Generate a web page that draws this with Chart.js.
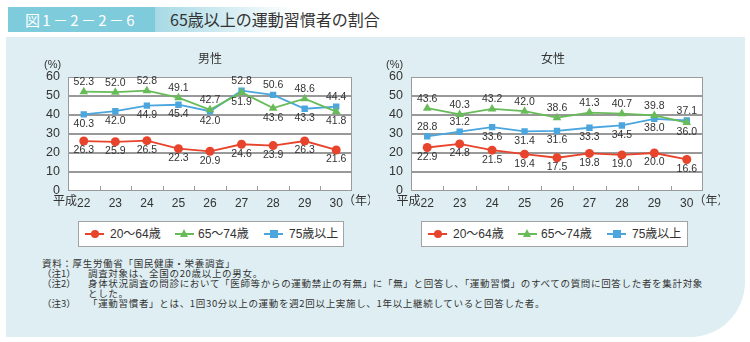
<!DOCTYPE html>
<html><head><meta charset="utf-8">
<script src="https://cdn.jsdelivr.net/npm/chart.js@4.4.1/dist/chart.umd.min.js"></script>
<style>
body{margin:0;width:750px;height:342px;background:#fff;position:relative;overflow:hidden;font-family:'Liberation Sans','Noto Sans CJK JP',sans-serif;}
.abs{position:absolute;}
#panel{left:6px;top:37px;width:739px;height:300px;background:#deeef2;border-bottom-right-radius:55px;}
.legend{top:221px;height:24px;background:#fff;border:1px solid #a3a3a3;font-size:12px;color:#333;}
.li{position:absolute;top:0;height:24px;line-height:24px;white-space:nowrap;}
.mk{position:absolute;top:11px;width:19px;height:2px;}
.dot{position:absolute;left:6px;top:-3px;width:8px;height:8px;border-radius:50%;}
.sq{position:absolute;left:6px;top:-3px;width:8px;height:8px;}
.tri{position:absolute;left:5px;top:-4px;width:0;height:0;border-left:4.5px solid transparent;border-right:4.5px solid transparent;border-bottom:8px solid;}
.notes{left:42px;top:258px;font-family:'Noto Sans CJK JP',sans-serif;font-size:9.5px;line-height:10px;color:#333;white-space:nowrap;}
.notes div{height:10px;}
.notes .p{display:inline-block;width:46px;letter-spacing:0;}
.ct{font-size:12px;color:#333;font-family:'Noto Sans CJK JP',sans-serif;}
.pc{font-size:11px;color:#333;}
</style></head>
<body>
<div class="abs" style="left:0;top:0;width:750px;height:37px;background:#fff"></div>
<div class="abs" style="left:155px;top:7px;width:140px;height:25px;background:linear-gradient(to right,#a6d9e5,#ffffff)"></div>
<div class="abs" style="left:8px;top:7px;width:147px;height:25px;background:#7ecbdb;"></div>
<div id="fig" class="abs" style="left:25px;top:7px;height:25px;color:#fff;font-family:'Noto Sans CJK JP',sans-serif;font-size:15px;line-height:25px;white-space:nowrap">図1－2－2－6</div>
<div id="ttl" class="abs" style="left:170px;top:7px;height:25px;line-height:25px;font-family:'Noto Sans CJK JP',sans-serif;font-size:16px;color:#333;white-space:nowrap">65歳以上の運動習慣者の割合</div>
<div id="panel" class="abs"></div>

<canvas id="c1" class="abs" style="left:20px;top:40px" width="350" height="175"></canvas>
<canvas id="c2" class="abs" style="left:370px;top:40px" width="350" height="175"></canvas>

<div class="abs ct" style="left:180px;top:51px;width:60px;text-align:center;line-height:14px">男性</div>
<div class="abs pc" style="left:44px;top:57px;line-height:14px">(%)</div>
<div class="abs ct" style="left:523px;top:51px;width:60px;text-align:center;line-height:14px">女性</div>
<div class="abs pc" style="left:386px;top:57px;line-height:14px">(%)</div>

<div id="lg1" class="abs legend" style="left:78px;width:264px"></div>
<div id="lg2" class="abs legend" style="left:421px;width:265px"></div>

<div id="notes" class="abs notes">
<div>資料：厚生労働省「国民健康・栄養調査」</div>
<div><span class="p">（注1）</span>調査対象は、全国の20歳以上の男女。</div>
<div><span class="p">（注2）</span><span id="longline">身体状況調査の問診において「医師等からの運動禁止の有無」に「無」と回答し、「運動習慣」のすべての質問に回答した者を集計対象</span></div>
<div><span class="p"></span>とした。</div>
<div><span class="p">（注3）</span>「運動習慣者」とは、1回30分以上の運動を週2回以上実施し、1年以上継続していると回答した者。</div>
</div>

<script>
// ---- data ----
const years = ['22','23','24','25','26','27','28','29','30'];
const seriesNames = ['20～64歳','65～74歳','75歳以上'];
const male2064 = [26.3,25.9,26.5,22.3,20.9,24.6,23.9,26.3,21.6];
const male6574 = [52.3,52.0,52.8,49.1,42.7,51.9,43.6,48.6,41.8];
const male75 = [40.3,42.0,44.9,45.4,42.0,52.8,50.6,43.3,44.4];
const female2064 = [22.9,24.8,21.5,19.4,17.5,19.8,19.0,20.0,16.6];
const female6574 = [43.6,40.3,43.2,42.0,38.6,41.3,40.7,39.8,36.0];
const female75 = [28.8,31.2,33.6,31.4,31.6,33.3,34.5,38.0,37.1];
const yTicks = [0,10,20,30,40,50,60];

// ---- style ----
const COLORS = ['#e8432b','#67bb58','#4ba6de'];
const POINTS = ['circle','triangle','rect'];
const FONT = "'Liberation Sans','Noto Sans CJK JP',sans-serif";
const TXT = '#333';
const placeMale = [
  ['b','b','b','b','b','b','b','b','b'],
  ['a','a','a','a','a','b','b','a','b'],
  ['b','b','b','b','b','a','a','b','a']
];
const placeFemale = [
  ['b','b','b','b','b','b','b','b','b'],
  ['a','a','a','a','a','a','a','a','b'],
  ['a','a','b','b','b','b','b','b','a']
];

// fit text widths via letter-spacing
function fitTo(el, targetRight){
  const r = el.getBoundingClientRect();
  const n = el.textContent.length;
  const ls = (targetRight - r.right)/n;
  return ls;
}
{
  const f = document.getElementById('fig');
  f.style.letterSpacing = fitTo(f,137)+'px';
  const ll = document.getElementById('longline');
  const ls = fitTo(ll,703);
  document.querySelectorAll('#notes div').forEach(d=>d.style.letterSpacing=ls+'px');
}

const deco = {
  id:'deco',
  beforeDraw(c){
    const {ctx, chartArea:a} = c;
    ctx.save(); ctx.fillStyle='#fff';
    ctx.fillRect(a.left,a.top,a.right-a.left,a.bottom-a.top);
    ctx.restore();
  },
  afterDatasetsDraw(c, args, opts){
    const {ctx, chartArea:a} = c;
    const xs = c.scales.x;
    ctx.save();
    ctx.strokeStyle='#9b9b9b'; ctx.lineWidth=1;
    ctx.strokeRect(a.left+0.5,a.top+0.5,a.right-a.left-1,a.bottom-a.top-1);
    ctx.beginPath();
    for(let i=1;i<years.length;i++){
      const x = Math.round((xs.getPixelForValue(i-1)+xs.getPixelForValue(i))/2)+0.5;
      ctx.moveTo(x,a.bottom); ctx.lineTo(x,a.bottom-5);
    }
    ctx.stroke();
    ctx.font = '10.5px '+FONT; ctx.fillStyle=TXT;
    ctx.textAlign='center'; ctx.textBaseline='middle';
    c.data.datasets.forEach((ds,di)=>{
      const meta = c.getDatasetMeta(di);
      meta.data.forEach((pt,i)=>{
        const p = opts.place[di][i];
        const y = p==='a' ? pt.y-9.5 : pt.y+9.5;
        ctx.fillText(ds.data[i].toFixed(1), pt.x, y);
      });
    });
    ctx.font = '12px '+FONT; ctx.fillStyle=TXT; ctx.textBaseline='top';
    const ty = xs.top + opts.tickPad;
    const w0 = ctx.measureText(years[0]).width;
    const x0 = xs.getPixelForValue(0);
    ctx.textAlign='right'; ctx.fillText('平成', x0-w0/2, ty);
    const wl = ctx.measureText(years[years.length-1]).width;
    const xl = xs.getPixelForValue(years.length-1);
    ctx.textAlign='left'; ctx.fillText('（年）', xl+wl/2, ty);
    ctx.restore();
  }
};

function makeChart(id, data, place, yWidth, padRight){
  const tickPad = 5;
  return new Chart(document.getElementById(id), {
    type:'line',
    data:{
      labels: years,
      datasets: data.map((d,i)=>({
        label: seriesNames[i], data: d,
        borderColor: COLORS[i], backgroundColor: COLORS[i],
        pointBackgroundColor: COLORS[i], pointBorderColor: COLORS[i],
        pointStyle: POINTS[i], pointRadius: i===1?5:4.5, borderWidth:1.8, pointBorderWidth:0,
        tension:0, fill:false
      }))
    },
    options:{
      responsive:false, animation:false, devicePixelRatio:1,
      layout:{padding:{top:37,right:padRight,left:0,bottom:0}},
      scales:{
        x:{
          offset:true,
          grid:{display:false, drawTicks:false},
          border:{display:false},
          ticks:{font:{size:12,family:FONT}, color:TXT, padding:tickPad, maxRotation:0, autoSkip:false},
          afterFit(s){ s.height = 24; }
        },
        y:{
          min:0, max:60,
          afterBuildTicks(s){ s.ticks = yTicks.map(v=>({value:v})); },
          grid:{drawTicks:false, lineWidth:2, color:(ctx)=> (ctx.tick && (ctx.tick.value===0||ctx.tick.value===60)) ? 'rgba(0,0,0,0)' : '#999'},
          border:{display:false},
          ticks:{font:{size:12.5,family:FONT}, color:TXT, padding:8},
          afterFit(s){ s.width = yWidth; }
        }
      },
      plugins:{legend:{display:false}, tooltip:{enabled:false}, deco:{place:place, tickPad:tickPad}}
    },
    plugins:[deco]
  });
}

makeChart('c1',[male2064,male6574,male75],placeMale,48,18);
makeChart('c2',[female2064,female6574,female75],placeFemale,41,17);

function buildLegend(id){
  const el = document.getElementById(id);
  const mkOff=[6,96,185], txOff=[31,119,210];
  const shapes=['dot','tri','sq'];
  seriesNames.forEach((n,i)=>{
    const m = document.createElement('div');
    m.className='mk'; m.style.left=mkOff[i]+'px'; m.style.background=COLORS[i];
    const s = document.createElement('div'); s.className=shapes[i];
    if(shapes[i]==='tri'){ s.style.borderBottomColor=COLORS[i]; } else { s.style.background=COLORS[i]; }
    m.appendChild(s); el.appendChild(m);
    const t = document.createElement('div'); t.className='li'; t.style.left=txOff[i]+'px'; t.textContent=n;
    el.appendChild(t);
  });
}
buildLegend('lg1'); buildLegend('lg2');
</script>
</body></html>
